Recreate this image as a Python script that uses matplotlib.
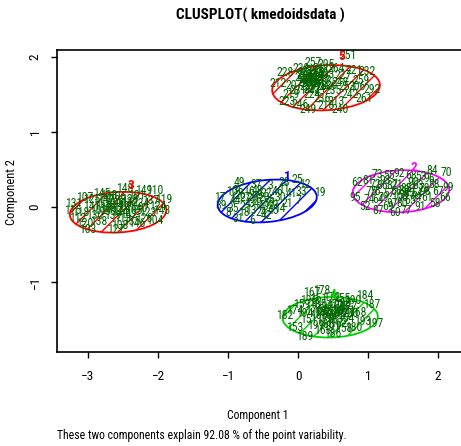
import matplotlib
matplotlib.use("Agg")
import matplotlib.pyplot as plt
from matplotlib.patches import Ellipse

plt.rcParams["font.family"] = ["Roboto Condensed", "Archivo Narrow", "DejaVu Sans"]
plt.rcParams["hatch.linewidth"] = 1.0

# cluster 1 (blue)
x1 = [-0.83, 0.31, -1.12, -0.01, -0.26, -1.10, -1.00, -0.85, -0.65, -0.45,
      -0.35, -0.15, 0.05, 0.10, -0.20, -0.40, -0.60, -0.95, -0.90, -0.80,
      -0.75, -0.70, -0.62, -0.55, -0.50, -0.45, -0.38, -0.30, -0.25, -0.68,
      -0.85, -0.58, -0.78, -0.52, -0.10, 0.00, -0.42, -0.20, -0.65, -0.92,
      -0.95, -0.72, -0.60, -0.48, -0.35, -0.82]
y1 = [0.32, 0.19, 0.13, 0.36, -0.02, 0.02, -0.08, -0.15, -0.18, -0.12,
      -0.05, 0.05, 0.20, 0.30, 0.32, 0.28, 0.30, 0.20, 0.08, 0.00,
      0.12, 0.20, 0.05, 0.15, 0.00, 0.18, 0.10, 0.20, 0.12, -0.05,
      0.22, 0.22, -0.08, -0.08, 0.18, 0.08, 0.05, 0.25, 0.12, -0.02,
      0.10, 0.05, 0.10, 0.12, 0.02, 0.15]
lab1 = [49, 19, 17, 25, 14, 39, 8, 31, 6, 42, 45, 21, 33, 12, 28, 3, 37, 10, 44, 2,
        27, 16, 34, 9, 40, 22, 5, 46, 30, 13, 36, 48, 18, 24, 41, 7, 50, 11, 29, 35,
        1, 4, 15, 20, 23, 26]

# cluster 2 (magenta)
x2 = [1.13, 1.91, 2.12, 2.15, 2.10, 1.95, 1.75, 1.55, 1.38, 1.15,
      0.95, 0.82, 0.84, 1.00, 1.30, 1.45, 1.62, 1.75, 1.05, 1.15,
      1.20, 1.30, 1.35, 1.42, 1.50, 1.55, 1.60, 1.65, 1.70, 1.80,
      1.85, 1.95, 2.00, 1.25, 1.10, 1.40, 1.48, 1.72, 1.88, 1.02,
      1.58, 1.28, 1.10, 1.22, 1.35, 1.52, 1.68, 1.82, 1.45, 1.62]
y2 = [0.43, 0.48, 0.46, 0.26, 0.12, 0.05, 0.00, -0.05, -0.08, -0.05,
      0.00, 0.12, 0.32, 0.35, 0.42, 0.45, 0.42, 0.40, 0.20, 0.10,
      0.28, 0.18, 0.05, 0.30, 0.15, 0.25, 0.08, 0.32, 0.18, 0.25,
      0.12, 0.30, 0.20, 0.35, 0.30, 0.20, 0.05, 0.28, 0.38, 0.10,
      0.18, 0.00, 0.20, 0.12, 0.28, 0.22, 0.12, 0.20, 0.12, 0.25]
lab2 = [73, 84, 70, 99, 66, 58, 91, 77, 60, 87, 52, 95, 62, 81, 55, 92, 68, 53, 75, 64,
        86, 57, 97, 71, 59, 83, 65, 90, 54, 78, 61, 88, 67, 93, 72, 56, 80, 63, 96, 74,
        85, 69, 76, 79, 82, 89, 94, 98, 100, 51]

# cluster 3 (red, left)
x3 = [-3.20, -3.22, -3.15, -3.05, -2.85, -2.60, -2.30, -2.05, -1.95, -1.92,
      -2.05, -2.20, -2.48, -2.70, -2.95, -3.05, -2.95, -2.85, -2.80, -2.70,
      -2.60, -2.55, -2.45, -2.40, -2.35, -2.65, -2.50, -2.25, -2.15, -2.30,
      -2.75, -3.10, -2.90, -2.58, -2.42, -2.20, -2.10, -2.62, -2.72, -2.48,
      -2.38, -2.00, -2.80, -3.00, -2.55, -2.78, -2.66, -2.52, -2.40, -2.28]
y3 = [0.05, -0.05, -0.15, -0.22, -0.20, -0.30, -0.22, -0.18, -0.05, 0.10,
      0.22, 0.22, 0.24, 0.15, 0.10, 0.12, 0.00, -0.05, 0.05, -0.02,
      0.05, -0.08, 0.00, 0.10, -0.05, -0.12, -0.15, 0.05, -0.08, 0.15,
      0.10, -0.08, -0.12, 0.14, -0.10, -0.15, 0.08, 0.02, -0.06, 0.04,
      -0.20, 0.00, 0.18, -0.30, -0.25, 0.00, 0.08, -0.02, 0.06, -0.02]
lab3 = [131, 115, 112, 120, 138, 127, 146, 104, 143, 119, 110, 149, 148, 133, 125,
        107, 141, 102, 117, 136, 109, 144, 121, 128, 105, 139, 113, 134, 123, 101,
        147, 118, 130, 106, 142, 126, 137, 114, 150, 111, 135, 124, 145, 103, 108,
        116, 122, 129, 132, 140]

# cluster 4 (green, bottom)
x4 = [0.34, 0.20, 0.96, 1.06, -0.19, 0.92, 1.10, 0.10, -0.05, 0.05,
      -0.05, 0.15, 0.30, 0.48, 0.62, 0.78, 0.85, 0.80, 0.65, 0.50,
      0.35, 0.25, 0.15, 0.22, 0.30, 0.38, 0.42, 0.45, 0.52, 0.55,
      0.58, 0.62, 0.68, 0.72, 0.75, 0.40, 0.48, 0.35, 0.28, 0.60,
      0.65, 0.50, 0.10, 0.32, 0.44, 0.56, 0.70, 0.38, 0.52, 0.64]
y4 = [-1.11, -1.14, -1.18, -1.30, -1.45, -1.53, -1.55, -1.73, -1.60, -1.30,
      -1.38, -1.25, -1.22, -1.20, -1.22, -1.25, -1.40, -1.60, -1.62, -1.68,
      -1.65, -1.58, -1.50, -1.38, -1.45, -1.32, -1.48, -1.38, -1.30, -1.45,
      -1.55, -1.38, -1.48, -1.32, -1.42, -1.56, -1.60, -1.40, -1.30, -1.32,
      -1.42, -1.40, -1.42, -1.36, -1.44, -1.36, -1.38, -1.50, -1.50, -1.28]
lab4 = [178, 167, 184, 187, 182, 193, 197, 189, 153, 159, 174, 196, 161, 172, 155,
        190, 168, 180, 158, 186, 163, 199, 151, 176, 165, 192, 157, 181, 170, 195,
        162, 188, 154, 177, 200, 166, 191, 160, 185, 173, 152, 179, 194, 156, 164,
        169, 171, 175, 183, 198]

# cluster 5 (red, top)
x5 = [0.21, 0.71, 0.99, 1.06, -0.19, -0.29, 0.03, -0.10, 0.05, 0.40,
      0.55, 0.80, 0.90, 0.75, 0.55, 0.35, 0.20, 0.15, -0.05, 0.10,
      0.18, 0.25, 0.30, 0.12, 0.22, 0.35, 0.28, 0.08, 0.40, 0.18,
      0.33, 0.45, 0.60, 0.65, 0.50, 0.70, 0.85, 0.95, 0.60, 0.40,
      -0.15, 0.00, 0.25, 0.15, 0.38, 0.10, 0.16, 0.24, 0.30, 0.36,
      0.20, 0.27, 0.13]
y5 = [1.92, 2.02, 1.80, 1.56, 1.79, 1.65, 1.36, 1.50, 1.85, 1.90,
      1.85, 1.82, 1.68, 1.50, 1.40, 1.45, 1.50, 1.30, 1.62, 1.75,
      1.80, 1.70, 1.78, 1.66, 1.62, 1.68, 1.58, 1.72, 1.76, 1.70,
      1.84, 1.62, 1.66, 1.75, 1.55, 1.60, 1.60, 1.45, 1.30, 1.35,
      1.40, 1.55, 1.76, 1.60, 1.60, 1.78, 1.64, 1.73, 1.64, 1.72,
      1.56, 1.82, 1.70]
lab5 = [257, 251, 232, 292, 228, 212, 246, 219, 238, 205, 264, 221, 259, 242, 213,
        236, 224, 249, 207, 215, 233, 202, 226, 241, 209, 217, 254, 230, 203, 244,
        211, 220, 248, 227, 235, 253, 206, 261, 240, 218, 223, 231, 214, 239, 260,
        201, 204, 208, 210, 216, 222, 225, 229]

# ellipse centre, half axes, tilt (degrees) and colour per cluster
clusters = [
    (x1, y1, lab1, (-0.44, 0.08), 0.71, 0.28, 5, "#0000FF", "1", (-0.16, 0.40)),
    (x2, y2, lab2, (1.47, 0.21), 0.69, 0.28, 2, "#FF00FF", "2", (1.66, 0.53)),
    (x3, y3, lab3, (-2.57, -0.07), 0.69, 0.27, 3, "#FF0000", "3", (-2.39, 0.28)),
    (x4, y4, lab4, (0.46, -1.47), 0.68, 0.27, 1, "#00CD00", "4", (0.50, -1.17)),
    (x5, y5, lab5, (0.40, 1.59), 0.77, 0.30, 3, "#FF0000", "5", (0.63, 2.00)),
]

fig = plt.figure(figsize=(4.61, 4.46), dpi=100)
ax = fig.add_axes([0.1236, 0.2108, 0.896, 0.6771])

for xs, ys, labs, centre, a, b, ang, col, name, name_xy in clusters:
    ax.add_patch(Ellipse(centre, 2 * a, 2 * b, angle=ang, facecolor="none",
                         edgecolor=col, hatch="//", linewidth=1.3, zorder=1))
    for x, y, lab in zip(xs, ys, labs):
        ax.text(x, y, str(lab), color="#006400", fontsize=8.5,
                ha="center", va="center", zorder=2)
    ax.text(name_xy[0], name_xy[1], name, color=col, fontsize=9.5,
            fontweight="bold", ha="center", va="center", zorder=3)

ax.set_xlim(-3.443, 2.457)
ax.set_ylim(-1.933, 2.093)
ax.set_xticks([-3, -2, -1, 0, 1, 2])
ax.set_yticks([-1, 0, 1, 2])
ax.tick_params(direction="out", length=4, width=1, labelsize=9.5)
ax.tick_params(axis="x", pad=9)
ax.tick_params(axis="y", pad=7)
for lbl in ax.get_yticklabels():
    lbl.set_rotation(90)
    lbl.set_va("center")
for sp in ax.spines.values():
    sp.set_linewidth(1.2)

fig.text(260 / 461, 1 - 15 / 446, "CLUSPLOT( kmedoidsdata )", ha="center", va="center",
         fontsize=11, fontweight="bold")
fig.text(258 / 461, 1 - 416 / 446, "Component 1", ha="center", va="center", fontsize=8.5)
fig.text(57 / 461, 1 - 436 / 446,
         "These two components explain 92.08 % of the point variability.",
         ha="left", va="center", fontsize=8.5)
fig.text(12 / 461, 1 - 192 / 446, "Component 2", rotation=90,
         ha="center", va="center", fontsize=9)

fig.savefig("out.png", dpi=100)
